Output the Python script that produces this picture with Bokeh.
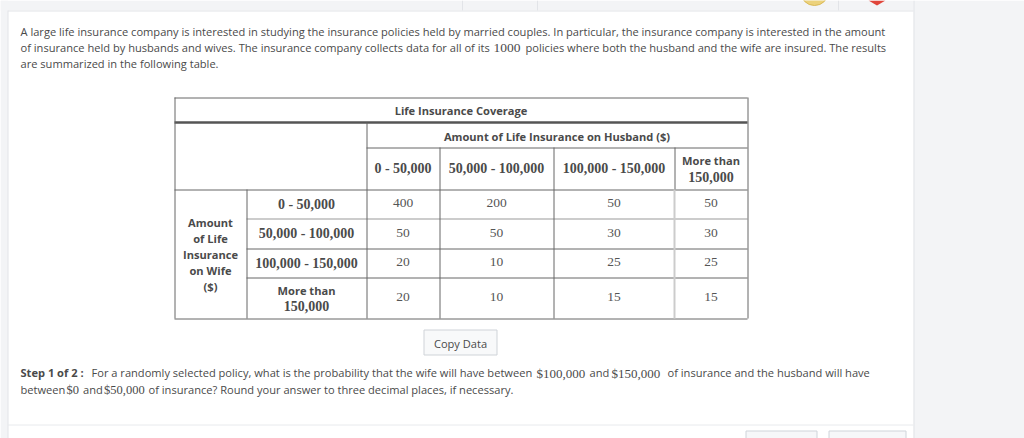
from bokeh.plotting import figure
from bokeh.models import Range1d
from bokeh.core.properties import value
from bokeh.embed import file_html
from bokeh.resources import INLINE

# ---------------- data ----------------
husband_bins = ["0 - 50,000", "50,000 - 100,000", "100,000 - 150,000", "More than|150,000"]
wife_bins = ["0 - 50,000", "50,000 - 100,000", "100,000 - 150,000", "More than|150,000"]
counts = [
    [400, 200, 50, 50],
    [50, 50, 30, 30],
    [20, 10, 25, 25],
    [20, 10, 15, 15],
]
title_top = "Life Insurance Coverage"
title_husband = "Amount of Life Insurance on Husband ($)"
title_wife = ["Amount", "of Life", "Insurance", "on Wife", "($)"]
total_policies = "1000"

intro_1 = "A large life insurance company is interested in studying the insurance policies held by married couples. In particular, the insurance company is interested in the amount"
intro_2a = "of insurance held by husbands and wives. The insurance company collects data for all of its"
intro_2b = "policies where both the husband and the wife are insured. The results"
intro_3 = "are summarized in the following table."

step_label = "Step 1 of 2 :"
step_1a = "For a randomly selected policy, what is the probability that the wife will have between"
step_1b = "$100,000"
step_1c = "and"
step_1d = "$150,000"
step_1e = "of insurance and the husband will have"
step_2a = "between"
step_2b = "$0"
step_2c = "and"
step_2d = "$50,000"
step_2e = "of insurance? Round your answer to three decimal places, if necessary."

# ---------------- figure ----------------
W, H = 1024, 438
p = figure(width=W, height=H, x_range=Range1d(0, W), y_range=Range1d(H, 0),
           output_backend="svg", toolbar_location=None, min_border=0)
p.axis.visible = False
p.grid.visible = False
p.outline_line_color = None
p.background_fill_color = "white"
p.border_fill_color = "white"

SANS = "Open Sans"
SERIF = "Liberation Serif"
TXT = "#4a4a4a"
LINE = "#666666"
LIGHT = "#cccccc"
SANS_SIZE = 11.1
NUM_SIZE = 13


def txt(xs, ys, texts, font=SANS, size=SANS_SIZE, style="normal", color=TXT, align="left"):
    p.text(x=xs, y=ys, text=texts, text_font=value(font), text_font_size=f"{size}px",
           text_font_style=style, text_color=color, text_align=align, text_baseline="middle")


# page chrome
GRAY = "#f3f4f6"
EDGE = "#e2e4e8"
p.quad(left=[913], right=[W], top=[0], bottom=[H], fill_color=GRAY, line_color=None)
p.quad(left=[0], right=[7.5], top=[0], bottom=[H], fill_color=GRAY, line_color=None)
p.quad(left=[0], right=[913], top=[0], bottom=[10], fill_color=GRAY, line_color=None)
p.segment(x0=[7.5], y0=[10], x1=[7.5], y1=[H], line_color=EDGE, line_width=1)
p.segment(x0=[7.5], y0=[10.5], x1=[913], y1=[10.5], line_color=EDGE, line_width=1)
p.segment(x0=[913.5], y0=[0], x1=[913.5], y1=[H], line_color=EDGE, line_width=1)
p.segment(x0=[462, 537, 838], y0=[0, 0, 0], x1=[462, 537, 838], y1=[10, 10, 10],
          line_color=EDGE, line_width=1)
p.circle(x=[814], y=[-9], radius=14, fill_color="#ecd27c", line_color="#d9b957", line_width=1)
p.patch(x=[868, 885, 876.5], y=[0, 0, 5], fill_color="#e0463b", line_color=None)
p.segment(x0=[7.5], y0=[424.5], x1=[913], y1=[424.5], line_color="#e8eaed", line_width=1)
p.quad(left=[745.5, 828.5], right=[816.5, 905.5], top=[430.5, 430.5], bottom=[440, 440],
       fill_color="#f6f7f9", line_color="#cfd4da", line_width=1)

# intro text
txt([20], [31], [intro_1])
txt([20], [47], [intro_2a])
txt([493], [47.5], [total_policies], font=SERIF, size=NUM_SIZE + 0.5)
txt([525], [47], [intro_2b])
txt([20], [63], [intro_3])

# ---------------- table ----------------
cx = [174, 246, 366, 439, 553, 674, 747]   # column edges
ry = [97, 122, 147, 189, 218, 248, 277, 318]  # row edges

# horizontal lines
p.segment(x0=[cx[0]], y0=[ry[0] + 0.5], x1=[cx[-1]], y1=[ry[0] + 0.5], line_color=LINE, line_width=1)
p.segment(x0=[cx[0]], y0=[ry[1]], x1=[cx[-1]], y1=[ry[1]], line_color="#555555", line_width=2.5)
p.segment(x0=[cx[2]], y0=[ry[2] + 0.5], x1=[cx[-1]], y1=[ry[2] + 0.5], line_color=LINE, line_width=1)
p.segment(x0=[cx[0]], y0=[ry[3] + 0.5], x1=[cx[-1]], y1=[ry[3] + 0.5], line_color=LINE, line_width=1)
p.segment(x0=[cx[1]], y0=[ry[4] + 0.5], x1=[cx[-1]], y1=[ry[4] + 0.5], line_color=LIGHT, line_width=2)
p.segment(x0=[cx[1], cx[1]], y0=[ry[5] + 0.5, ry[6] + 0.5], x1=[cx[-1], cx[-1]],
          y1=[ry[5] + 0.5, ry[6] + 0.5], line_color=LINE, line_width=1)
p.segment(x0=[cx[0]], y0=[ry[7] + 0.5], x1=[cx[-1]], y1=[ry[7] + 0.5], line_color=LINE, line_width=1)

# vertical lines
p.segment(x0=[cx[0] + 0.5, cx[-1] + 0.5], y0=[ry[0], ry[0]], x1=[cx[0] + 0.5, cx[-1] + 0.5],
          y1=[ry[-1], ry[-1]], line_color=LINE, line_width=1)
p.segment(x0=[cx[1] + 0.5], y0=[ry[3]], x1=[cx[1] + 0.5], y1=[ry[-1]], line_color=LINE, line_width=1)
p.segment(x0=[cx[2] + 0.5], y0=[ry[1]], x1=[cx[2] + 0.5], y1=[ry[-1]], line_color=LINE, line_width=1)
p.segment(x0=[cx[3] + 0.5, cx[4] + 0.5], y0=[ry[2], ry[2]], x1=[cx[3] + 0.5, cx[4] + 0.5],
          y1=[ry[-1], ry[-1]], line_color=LINE, line_width=1)
p.segment(x0=[cx[5] + 0.5], y0=[ry[2]], x1=[cx[5] + 0.5], y1=[ry[3]], line_color=LINE, line_width=1)
p.segment(x0=[cx[5]], y0=[ry[3]], x1=[cx[5]], y1=[ry[-1]], line_color=LIGHT, line_width=2)

# titles
txt([(cx[0] + cx[-1]) / 2], [(ry[0] + ry[1]) / 2], [title_top], style="bold", align="center")
txt([(cx[2] + cx[-1]) / 2], [(ry[1] + ry[2]) / 2 + 1], [title_husband], style="bold", align="center")
wy0 = (ry[3] + ry[-1]) / 2 - 2 * 16
txt([(cx[0] + cx[1]) / 2] * len(title_wife), [wy0 + 16 * i for i in range(len(title_wife))],
    title_wife, style="bold", align="center")

# column headers (husband) and row labels (wife)
for j, lab in enumerate(husband_bins):
    xc = (cx[2 + j] + cx[3 + j]) / 2
    yc = (ry[2] + ry[3]) / 2
    if "|" in lab:
        a, b = lab.split("|")
        txt([xc], [yc - 8], [a], style="bold", align="center")
        txt([xc], [yc + 8], [b], font=SERIF, size=14, style="bold", align="center")
    else:
        txt([xc], [yc], [lab], font=SERIF, size=14, style="bold", align="center")

for i, lab in enumerate(wife_bins):
    xc = (cx[1] + cx[2]) / 2
    yc = (ry[3 + i] + ry[4 + i]) / 2
    if "|" in lab:
        a, b = lab.split("|")
        txt([xc], [yc - 8], [a], style="bold", align="center")
        txt([xc], [yc + 8], [b], font=SERIF, size=14, style="bold", align="center")
    else:
        txt([xc], [yc], [lab], font=SERIF, size=14, style="bold", align="center")

# cells
xs, ys, vs = [], [], []
for i, row in enumerate(counts):
    for j, v in enumerate(row):
        xs.append((cx[2 + j] + cx[3 + j]) / 2)
        ys.append((ry[3 + i] + ry[4 + i]) / 2 - 1)
        vs.append(str(v))
txt(xs, ys, vs, font=SERIF, size=13.5, color="#555555", align="center")

# copy data button
p.quad(left=[423.5], right=[496.5], top=[329.5], bottom=[354.5], fill_color="#f8f9fa",
       line_color="#cfd3d8", line_width=1)
txt([460], [343], ["Copy Data"], align="center")

# step text
txt([20], [372], [step_label], style="bold")
txt([91], [372], [step_1a])
txt([536], [372.5], [step_1b], font=SERIF, size=NUM_SIZE)
txt([589], [372], [step_1c])
txt([611], [372.5], [step_1d], font=SERIF, size=NUM_SIZE)
txt([667], [372], [step_1e])
txt([20], [389], [step_2a])
txt([66], [389.5], [step_2b], font=SERIF, size=12.5)
txt([82.5], [389], [step_2c])
txt([103.5], [389.5], [step_2d], font=SERIF, size=12.5)
txt([148], [389], [step_2e])

open("out.html", "w").write(file_html(p, INLINE))
